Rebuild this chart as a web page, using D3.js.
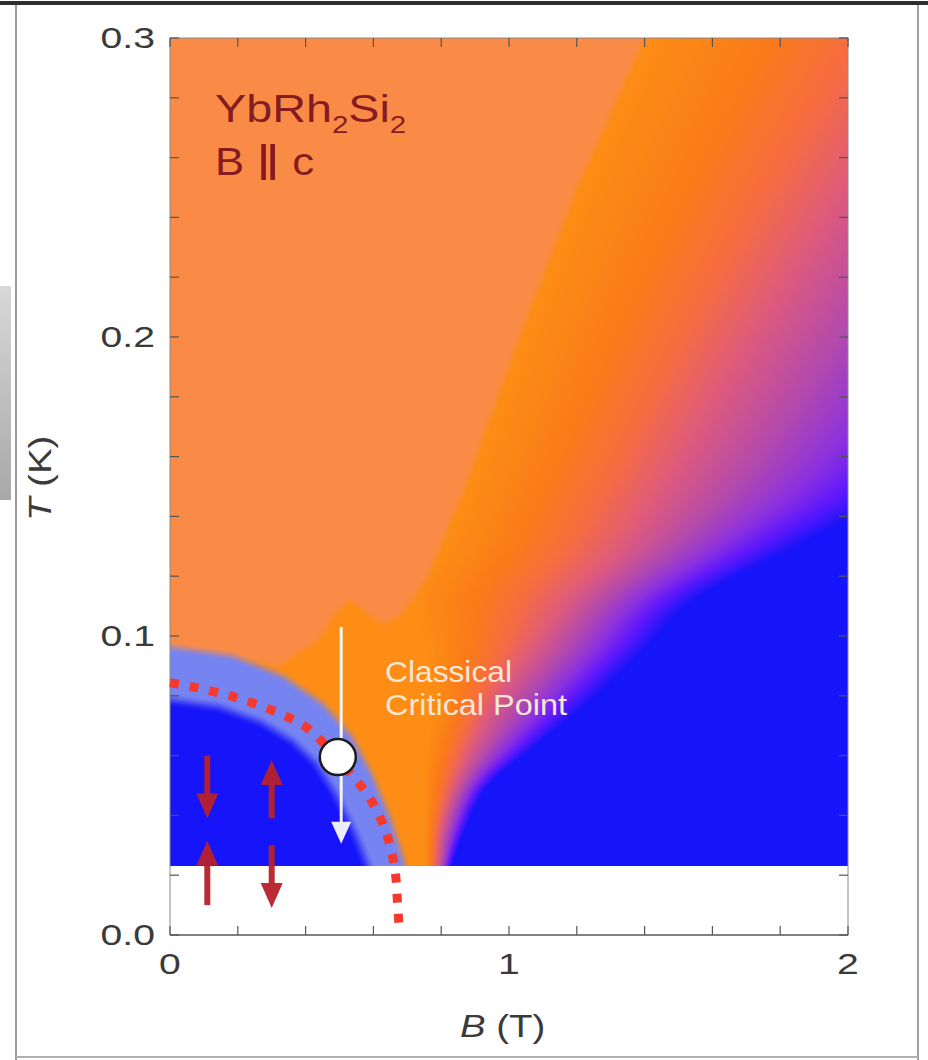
<!DOCTYPE html>
<html><head><meta charset="utf-8">
<script src="https://cdn.jsdelivr.net/npm/d3@7"></script>
<style>html,body{margin:0;padding:0;background:#fff}svg{display:block}</style>
</head><body>
<script>
// ---------------- data ----------------
const xTickValues = [0,0.2,0.4,0.6,0.8,1,1.2,1.4,1.6,1.8,2];
const xTickLabels = [{v:0,t:"0"},{v:1,t:"1"},{v:2,t:"2"}];
const yTickValues = [0,0.02,0.04,0.06,0.08,0.1,0.12,0.14,0.16,0.18,0.2,0.22,0.24,0.26,0.28,0.3];
const yTickLabels = [{v:0,t:"0.0"},{v:0.1,t:"0.1"},{v:0.2,t:"0.2"},{v:0.3,t:"0.3"}];
const tMin = 0.023;   // lowest measured temperature (K)

// crossover field, per temperature row: B where bright-orange band starts, mid (pink) point, full blue
const crossT    = [0.023,0.035,0.05,0.065,0.08,0.095,0.112,0.13,0.15,0.2,0.25,0.3];
const bandLeftB = [0.75, 0.75, 0.75,0.76, 0.78,0.76, 0.72, 0.80,0.87,1.03,1.20,1.40];
const bandMidB  = [0.79, 0.80, 0.84,0.90, 0.97,1.07, 1.18, 1.34,1.46,1.72,2.0, 2.3];
const blueB     = [0.83, 0.87, 0.94,1.10, 1.26,1.40, 1.55, 1.85,2.18,2.62,2.92,3.2];

// boundary of the upper-left (peach) region
const peachB = [0,    0.2,  0.32, 0.44, 0.49, 0.53, 0.58, 0.63, 0.68, 0.72, 0.76, 0.87, 1.03, 1.20, 1.40, 1.47];
const peachT = [0.093,0.092,0.090,0.099,0.108,0.112,0.108,0.104,0.107,0.113,0.120,0.150,0.200,0.250,0.300,0.320];

// centre of the light-blue band around the AF phase, and its half width (px) vs T
const haloB = [-0.2,  0,     0.162, 0.300, 0.406, 0.483, 0.542, 0.598, 0.639, 0.660, 0.675];
const haloT = [0.0873,0.0873,0.0846,0.0786,0.0709,0.0619,0.0505,0.0368,0.0237,0.012, 0.0];
const haloWT = [0.02, 0.05, 0.07, 0.09];
const haloWW = [17,   20,   23,   27];

// AF transition line T_N(B) (red dotted)
const tnB = [0,     0.074, 0.195, 0.317, 0.403, 0.49,  0.54,  0.59,  0.637, 0.663, 0.671, 0.676];
const tnT = [0.0844,0.0828,0.0794,0.0744,0.0694,0.0595,0.0530,0.0456,0.0344,0.0222,0.0110,0.0020];

// classical critical point
const critPoint = {b:0.495, t:0.0595};
// white arrow (field sweep through critical point)
const whiteArrow = {b:0.505, t0:0.103, t1:0.0305};
// red spin arrows
const spinArrows = [
  {b:0.11, t0:0.0600, t1:0.0390},
  {b:0.11, t0:0.0100, t1:0.0315},
  {b:0.30, t0:0.0390, t1:0.0585},
  {b:0.30, t0:0.0300, t1:0.0090}
];

// colours
const peachColor = [249,139,71];
const haloColor  = [118,132,242];
const blueColor  = [22,20,248];
const uStops  = [0, 0.25, 0.42, 0.6, 0.72, 0.82, 0.9, 1];
const uColors = ["#fd8d14","#fa7a1a","#f66c42","#dc5a7e","#b048b0","#8a30e0","#6018fc","#1614f8"];

// ---------------- layout ----------------
const W = 928, H = 1060;
const x = d3.scaleLinear().domain([0,2]).range([170,848]);
const y = d3.scaleLinear().domain([0,0.3]).range([935,38]);

const svg = d3.select("body").append("svg").attr("width",W).attr("height",H)
  .style("font-family","'Liberation Sans', Arial, Helvetica, sans-serif");

svg.append("rect").attr("width",W).attr("height",H).attr("fill","#fff");

// stray grey patch at left edge
const gp = svg.append("defs").append("linearGradient").attr("id","gp").attr("x1",0).attr("x2",0).attr("y1",0).attr("y2",1);
gp.append("stop").attr("offset",0).attr("stop-color","#d8d8d8");
gp.append("stop").attr("offset",1).attr("stop-color","#a8a8a8");
svg.append("path").attr("d","M0,286 L11,286 L11,500 L0,500 Z").attr("fill","url(#gp)");

// outer frame
svg.append("line").attr("x1",16).attr("x2",16).attr("y1",4).attr("y2",H).attr("stroke","#9a9a9a").attr("stroke-width",2);
svg.append("line").attr("x1",918).attr("x2",918).attr("y1",4).attr("y2",H).attr("stroke","#a0a0a0").attr("stroke-width",2);
svg.append("line").attr("x1",0).attr("x2",W).attr("y1",3).attr("y2",3).attr("stroke","#2e2e2e").attr("stroke-width",4);
svg.append("line").attr("x1",16).attr("x2",918).attr("y1",1057).attr("y2",1057).attr("stroke","#b0b0b0").attr("stroke-width",2);

// ---------------- colour field ----------------
function smooth(e0,e1,v){ let t=(v-e0)/(e1-e0); t=t<0?0:t>1?1:t; return t*t*(3-2*t); }
function distPoly(px,py,pts){
  let m=1e12;
  for(let i=0;i<pts.length-1;i++){
    const ax=pts[i][0],ay=pts[i][1],bx=pts[i+1][0],by=pts[i+1][1];
    const dx=bx-ax,dy=by-ay; let t=((px-ax)*dx+(py-ay)*dy)/(dx*dx+dy*dy);
    t=t<0?0:t>1?1:t; const ex=ax+t*dx-px,ey=ay+t*dy-py; const d=ex*ex+ey*ey; if(d<m)m=d;
  }
  return Math.sqrt(m);
}
// monotone cubic (Fritsch-Carlson) interpolation of a tabulated curve
function monotone(xs, ys){
  const n=xs.length, d=[], m=new Array(n);
  for(let i=0;i<n-1;i++) d.push((ys[i+1]-ys[i])/(xs[i+1]-xs[i]));
  m[0]=d[0]; m[n-1]=d[n-2];
  for(let i=1;i<n-1;i++) m[i]=(d[i-1]*d[i]<=0)?0:(d[i-1]+d[i])/2;
  for(let i=0;i<n-1;i++){
    if(d[i]===0){m[i]=0;m[i+1]=0;continue;}
    const a=m[i]/d[i], b=m[i+1]/d[i], s=a*a+b*b;
    if(s>9){const t=3/Math.sqrt(s); m[i]=t*a*d[i]; m[i+1]=t*b*d[i];}
  }
  return function(v){
    let i = d3.bisectRight(xs,v)-1; i=Math.max(0,Math.min(n-2,i));
    const h=xs[i+1]-xs[i], t=(v-xs[i])/h, t2=t*t, t3=t2*t;
    return (2*t3-3*t2+1)*ys[i]+(t3-2*t2+t)*h*m[i]+(-2*t3+3*t2)*ys[i+1]+(t3-t2)*h*m[i+1];
  };
}
const leftS = monotone(crossT, bandLeftB);
const midS  = monotone(crossT, bandMidB);
const blueS = monotone(crossT, blueB);
const peachS = d3.scaleLinear().domain(peachB).range(peachT);
const haloS  = d3.scaleLinear().domain(haloB).range(haloT);
const haloW  = d3.scaleLinear().domain(haloWT).range(haloWW).clamp(true);
const peachPts = peachB.map((b,i)=>[x(b),y(peachT[i])]);
const haloPts  = haloB.map((b,i)=>[x(b),y(haloT[i])]);
const uScale = d3.scaleLinear().domain(uStops).range(uColors).interpolate(d3.interpolateRgb);
const LUT = d3.range(256).map(i=>{const c=d3.rgb(uScale(i/255)); return [c.r,c.g,c.b];});

const px0 = x(0), py0 = y(0.3);
const cw = Math.round(x(2)-x(0)), ch = Math.round(y(tMin)-y(0.3));
const canvas = document.createElement("canvas"); canvas.width=cw; canvas.height=ch;
const ctx = canvas.getContext("2d"); const img = ctx.createImageData(cw,ch);
for(let j=0;j<ch;j++){
  const py = py0 + j + 0.5, T = y.invert(py);
  const bl=leftS(T), bm=midS(T), bb=blueS(T);
  for(let i=0;i<cw;i++){
    const px = px0 + i + 0.5, B = x.invert(px);
    let u;
    if(B<=bl) u=0; else if(B<=bm) u=0.6*(B-bl)/(bm-bl); else if(B<=bb) u=0.6+0.4*(B-bm)/(bb-bm); else u=1;
    const c = LUT[Math.round(u*255)];
    let r=c[0],g=c[1],b=c[2];
    // peach region
    const isPeach = B<=peachB[peachB.length-1] && T>peachS(B);
    const dp = distPoly(px,py,peachPts)*(isPeach?1:-1);
    const wp = smooth(-5,5,dp);
    r = r+(peachColor[0]-r)*wp; g = g+(peachColor[1]-g)*wp; b = b+(peachColor[2]-b)*wp;
    // AF phase with halo
    if(B < 0.9 && T < 0.13){
      const inside = B<=haloB[haloB.length-1] && T<haloS(B);
      const dh = distPoly(px,py,haloPts)*(inside?-1:1);
      const hw = haloW(T);
      if(dh>=0){
        const w = 1-smooth(hw-6,hw+6,dh);
        r=r+(haloColor[0]-r)*w; g=g+(haloColor[1]-g)*w; b=b+(haloColor[2]-b)*w;
      } else {
        const w = smooth(-hw-9,-hw+7,dh);
        r=blueColor[0]+(haloColor[0]-blueColor[0])*w; g=blueColor[1]+(haloColor[1]-blueColor[1])*w; b=blueColor[2]+(haloColor[2]-blueColor[2])*w;
      }
    }
    const k=(j*cw+i)*4; img.data[k]=r; img.data[k+1]=g; img.data[k+2]=b; img.data[k+3]=255;
  }
}
ctx.putImageData(img,0,0);
svg.append("image").attr("x",px0).attr("y",py0).attr("width",cw).attr("height",ch)
  .attr("preserveAspectRatio","none").attr("href",canvas.toDataURL());

// ---------------- frame & ticks ----------------
svg.append("rect").attr("x",x(0)).attr("y",y(0.3)).attr("width",x(2)-x(0)).attr("height",y(0)-y(0.3))
  .attr("fill","none").attr("stroke","#8a8a8a").attr("stroke-width",1);
svg.append("line").attr("x1",x(0)).attr("x2",x(2)).attr("y1",y(0)).attr("y2",y(0)).attr("stroke","#6a6a6a").attr("stroke-width",1.6);
const tk = svg.append("g").attr("stroke","#555").attr("stroke-width",1.2);
const TL = 9;
xTickValues.forEach(v=>{
  tk.append("line").attr("x1",x(v)).attr("x2",x(v)).attr("y1",y(0)).attr("y2",y(0)-TL);
  tk.append("line").attr("x1",x(v)).attr("x2",x(v)).attr("y1",y(0.3)).attr("y2",y(0.3)+TL);
});
yTickValues.forEach(v=>{
  tk.append("line").attr("x1",x(0)).attr("x2",x(0)+TL).attr("y1",y(v)).attr("y2",y(v));
  tk.append("line").attr("x1",x(2)).attr("x2",x(2)-TL).attr("y1",y(v)).attr("y2",y(v));
});

function stretchedText(parent, tx, ty, sx, txt, opts){
  const g = parent.append("g").attr("transform",`translate(${tx},${ty}) scale(${sx},1)`);
  const t = g.append("text").attr("x",0).attr("y",0).text(txt);
  Object.entries(opts||{}).forEach(([k,v])=>t.attr(k,v));
  return t;
}
xTickLabels.forEach(d=>stretchedText(svg, x(d.v), 974, 1.35, d.t, {"text-anchor":"middle","font-size":29,"fill":"#3a3a3a"}));
yTickLabels.forEach(d=>stretchedText(svg, 155, y(d.v)+10, 1.35, d.t, {"text-anchor":"end","font-size":29,"fill":"#3a3a3a"}));

// axis titles
const bt = svg.append("g").attr("transform","translate(460,1037) scale(1.2,1)").append("text").attr("font-size",32).attr("fill","#3a3a3a");
bt.append("tspan").attr("font-style","italic").text("B");
bt.append("tspan").text(" (T)");
const tt = svg.append("g").attr("transform","translate(51,521) rotate(-90) scale(1.2,1)").append("text").attr("font-size",32).attr("fill","#3a3a3a");
tt.append("tspan").attr("font-style","italic").text("T");
tt.append("tspan").text(" (K)");

// ---------------- overlays ----------------
const line = d3.line().x(d=>x(d[0])).y(d=>y(d[1])).curve(d3.curveCatmullRom);
svg.append("path").attr("d",line(tnB.map((b,i)=>[b,tnT[i]])))
  .attr("fill","none").attr("stroke","#f5392c").attr("stroke-width",9).attr("stroke-dasharray","9 11");

function arrow(a, color, sw, hwid, hl, op){
  const xa=x(a.b), y0=y(a.t0), y1=y(a.t1), dir = y1>y0?1:-1;
  const g = svg.append("g").attr("opacity",op);
  g.append("line").attr("x1",xa).attr("x2",xa).attr("y1",y0).attr("y2",y1-dir*hl*0.8).attr("stroke",color).attr("stroke-width",sw);
  g.append("path").attr("d",`M${xa},${y1} L${xa-hwid/2},${y1-dir*hl} L${xa+hwid/2},${y1-dir*hl} Z`).attr("fill",color);
}
spinArrows.forEach(a=>arrow(a,"#b8202c",6,22,25,0.95));
arrow(whiteArrow,"#ffffff",3,20,22,0.92);
svg.append("circle").attr("cx",x(critPoint.b)).attr("cy",y(critPoint.t)).attr("r",18)
  .attr("fill","#fff").attr("stroke","#1a1a1a").attr("stroke-width",2.5);

// labels
const cl = svg.append("g").attr("fill","#f8e6d4").attr("font-size",29);
cl.append("text").attr("x",385).attr("y",682).attr("textLength",127).attr("lengthAdjust","spacingAndGlyphs").text("Classical");
cl.append("text").attr("x",385).attr("y",715).attr("textLength",182).attr("lengthAdjust","spacingAndGlyphs").text("Critical Point");

const ti = svg.append("g").attr("transform","translate(215,122) scale(1.23,1)").attr("fill","#861c20");
const t1 = ti.append("text").attr("font-size",38);
t1.append("tspan").text("YbRh");
t1.append("tspan").attr("font-size",24).attr("dy",11).text("2");
t1.append("tspan").attr("dy",-11).text("Si");
t1.append("tspan").attr("font-size",24).attr("dy",11).text("2");
const t2 = svg.append("g").attr("transform","translate(215,175) scale(1.15,1)").attr("fill","#861c20")
  .append("text").attr("font-size",38);
t2.append("tspan").text("B ");
t2.append("tspan").attr("font-size",50).attr("dy",5).text("\u2016");
t2.append("tspan").attr("dy",-5).text(" c");
</script>
</body></html>
